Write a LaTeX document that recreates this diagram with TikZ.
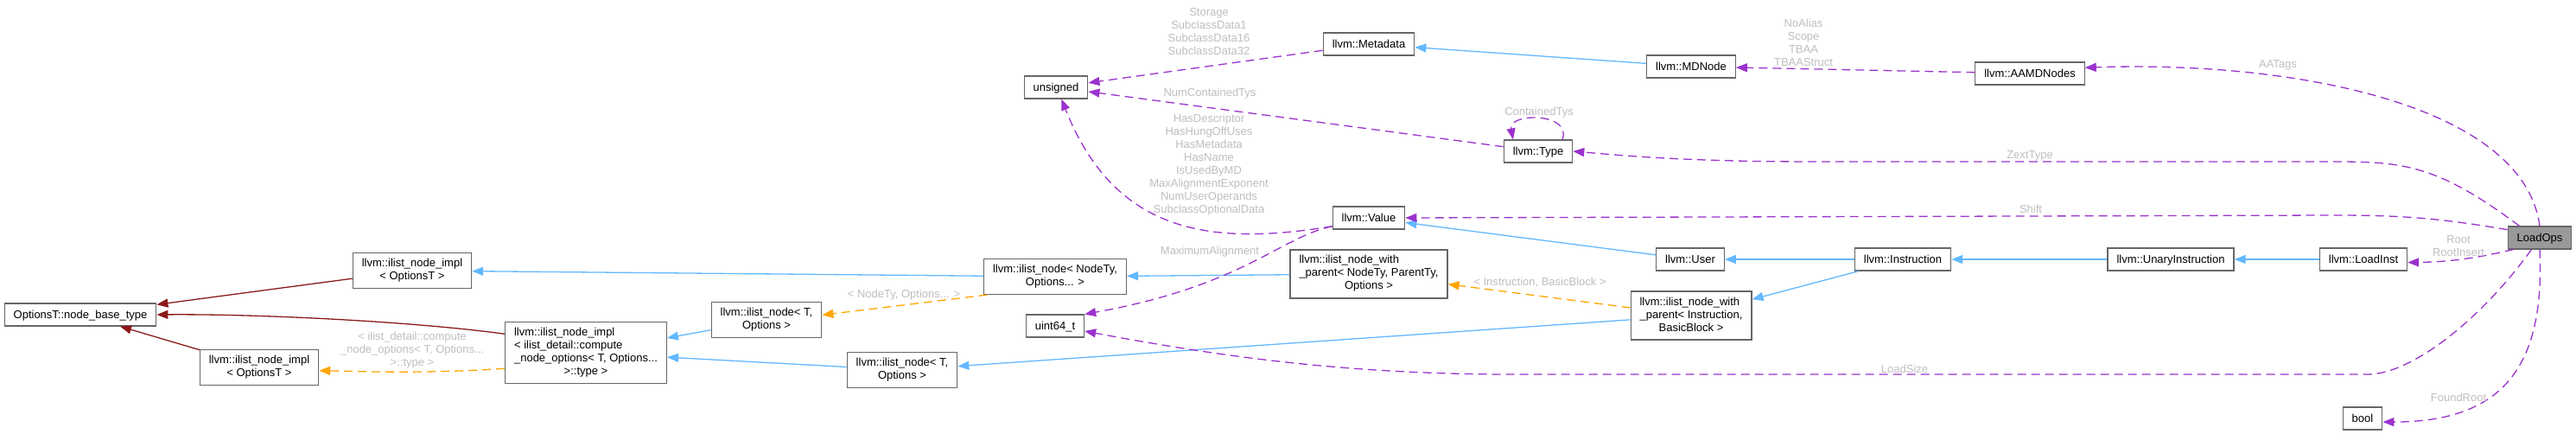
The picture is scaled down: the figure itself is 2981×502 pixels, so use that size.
\documentclass[tikz,border=0pt]{standalone}
\usepackage{fontspec}
\setmainfont{Liberation Sans}
\usetikzlibrary{arrows.meta}
\definecolor{pubblue}{HTML}{63B8FF}
\definecolor{privred}{HTML}{8B1A1A}
\definecolor{usepurple}{HTML}{9A32CD}
\definecolor{tplorange}{HTML}{FFA500}
\definecolor{lblgray}{HTML}{BEBEBE}
\definecolor{boxborder}{HTML}{666666}
\definecolor{rootfill}{HTML}{999999}
\newcommand{\lastc}[1]{\multicolumn{1}{@{}c@{}}{#1}}
\begin{document}
\begin{tikzpicture}[x=1pt,y=-1pt,>={Triangle[length=13pt,width=10pt]},
    box/.style={draw=boxborder,line width=1.1pt,fill=white,inner xsep=10.5pt,inner ysep=5.5pt,
      minimum height=26pt,font=\fontsize{13}{15}\selectfont},
    cls/.style={box,text height=10.5pt,text depth=1pt},
    clsm/.style={box},
    lbl/.style={text=lblgray,align=center,inner sep=0pt,font=\fontsize{13}{15}\selectfont},
    pub/.style={->,draw=pubblue,line width=1.3pt},
    priv/.style={->,draw=privred,line width=1.3pt},
    tpl/.style={->,draw=tplorange,line width=1.3pt,dash pattern=on 10pt off 6pt},
    use/.style={->,draw=usepurple,line width=1.3pt,dash pattern=on 10pt off 6pt}]
  \useasboundingbox (0,0) rectangle (2981,502);

  % classes
  \node[cls] (base) at (93,364) {OptionsT::node\_base\_type};
  \node[clsm] (impltop) at (477,313) {\begin{tabular}{@{}c@{}}llvm::ilist\_node\_impl\\< OptionsT >\end{tabular}};
  \node[clsm] (implbot) at (300,425) {\begin{tabular}{@{}c@{}}llvm::ilist\_node\_impl\\< OptionsT >\end{tabular}};
  \node[clsm] (impldetail) at (678,408) {\begin{tabular}{@{}l@{}}llvm::ilist\_node\_impl\\< ilist\_detail::compute\\\_node\_options< T, Options...\\\lastc{>::type >}\end{tabular}};
  \node[clsm] (nodet1) at (887,370) {\begin{tabular}{@{}c@{}}llvm::ilist\_node< T,\\Options >\end{tabular}};
  \node[clsm] (nodet2) at (1044,428) {\begin{tabular}{@{}c@{}}llvm::ilist\_node< T,\\Options >\end{tabular}};
  \node[clsm] (nodenodety) at (1221,320) {\begin{tabular}{@{}c@{}}llvm::ilist\_node< NodeTy,\\Options... >\end{tabular}};
  \node[cls] (uint64) at (1221,377) {uint64\_t};
  \node[cls] (unsigned) at (1222,101) {unsigned};
  \node[cls] (metadata) at (1584,51) {llvm::Metadata};
  \node[cls] (mdnode) at (1957,77) {llvm::MDNode};
  \node[cls] (aamd) at (2349,85) {llvm::AAMDNodes};
  \node[cls] (type) at (1780,175) {llvm::Type};
  \node[cls] (value) at (1584,252) {llvm::Value};
  \node[clsm] (wpgeneric) at (1584,317) {\begin{tabular}{@{}l@{}}llvm::ilist\_node\_with\\\_parent< NodeTy, ParentTy,\\\lastc{Options >}\end{tabular}};
  \node[cls] (user) at (1956,300) {llvm::User};
  \node[clsm] (wpinst) at (1957,365) {\begin{tabular}{@{}l@{}}llvm::ilist\_node\_with\\\_parent< Instruction,\\\lastc{BasicBlock >}\end{tabular}};
  \node[cls] (instruction) at (2202,300) {llvm::Instruction};
  \node[cls] (unary) at (2512,300) {llvm::UnaryInstruction};
  \node[cls] (loadinst) at (2735,300) {llvm::LoadInst};
  \node[cls,fill=rootfill] (loadops) at (2939,275) {LoadOps};
  \node[cls] (bool) at (2734,484) {bool};

  % inheritance
  \draw[pub] (nodenodety) -- (impltop);
  \draw[pub] (nodet1) -- (impldetail);
  \draw[pub] (nodet2) -- (impldetail);
  \draw[pub] (wpgeneric) -- (nodenodety);
  \draw[pub] (wpinst) -- (nodet2);
  \draw[pub] (user) -- (value);
  \draw[pub] (instruction) -- (user);
  \draw[pub] (instruction) -- (wpinst);
  \draw[pub] (unary) -- (instruction);
  \draw[pub] (loadinst) -- (unary);
  \draw[pub] (mdnode) -- (metadata);
  \draw[priv] (impltop) -- (base);
  \draw[priv] (impldetail.167) .. controls (480,372) and (300,363) .. (base.east);
  \draw[priv] (implbot) -- (base);

  % template instances
  \draw[tpl] (impldetail.191) .. controls (500,432) and (430,430) .. (implbot.-3);
  \draw[tpl] (nodenodety.195) -- (nodet1.5);
  \draw[tpl] (wpinst) -- (wpgeneric);

  % members
  \draw[use] (metadata) -- (unsigned);
  \draw[use] (type) -- (unsigned);
  \draw[use] (value.193) .. controls (1400,285) and (1290,270) .. (unsigned.-65);
  \draw[use] (value.193) .. controls (1480,275) and (1440,330) .. (uint64.north east);
  \draw[use] ([xshift=28pt]type.north) .. controls (1820,130) and (1745,130) .. ([xshift=-29pt]type.north);
  \draw[use] (aamd) -- (mdnode);
  \draw[use] (loadops.north) .. controls (2920,120) and (2650,70) .. (aamd.6);
  \draw[use] (loadops.150) .. controls (2820,190) and (2780,187) .. (2700,187) -- (2100,187)
    .. controls (1950,187) and (1880,180) .. (type.east);
  \draw[use] (loadops.166) .. controls (2820,252) and (2780,249) .. (2700,249) -- (value.east);
  \draw[use] (loadops.204) .. controls (2860,300) and (2830,303) .. (loadinst.-4);
  \draw[use] (loadops.235) .. controls (2870,371) and (2790,433) .. (2740,433) -- (1750,433)
    .. controls (1550,433) and (1400,410) .. (uint64.-10);
  \draw[use] (loadops.south) .. controls (2945,420) and (2900,488) .. (bool.-10);

  % edge labels
  \node[lbl] (lstorage) at (1399,36.5) {Storage\\SubclassData1\\SubclassData16\\SubclassData32};
  \node[lbl] (lnumct) at (1400,108) {NumContainedTys};
  \node[lbl] (lvalue) at (1399,191) {HasDescriptor\\HasHungOffUses\\HasMetadata\\HasName\\IsUsedByMD\\MaxAlignmentExponent\\NumUserOperands\\SubclassOptionalData};
  \node[lbl] (lmaxal) at (1400,291) {MaximumAlignment};
  \node[lbl] (lcont) at (1781,130) {ContainedTys};
  \node[lbl] (laa) at (2087,49.5) {NoAlias\\Scope\\TBAA\\TBAAStruct};
  \node[lbl] (laatags) at (2636,75) {AATags};
  \node[lbl] (lzext) at (2349,180) {ZextType};
  \node[lbl] (lshift) at (2350,242) {Shift};
  \node[lbl] (lroot) at (2845,284.5) {Root\\RootInsert};
  \node[lbl] (lsize) at (2204,427) {LoadSize};
  \node[lbl] (lfound) at (2845,460) {FoundRoot};
  \node[lbl] (ldetail) at (477,405) {< ilist\_detail::compute\\\_node\_options< T, Options...\\>::type >};
  \node[lbl] (lnodety) at (1046,341) {< NodeTy, Options... >};
  \node[lbl] (linst) at (1782,327) {< Instruction, BasicBlock >};
\end{tikzpicture}
\end{document}
